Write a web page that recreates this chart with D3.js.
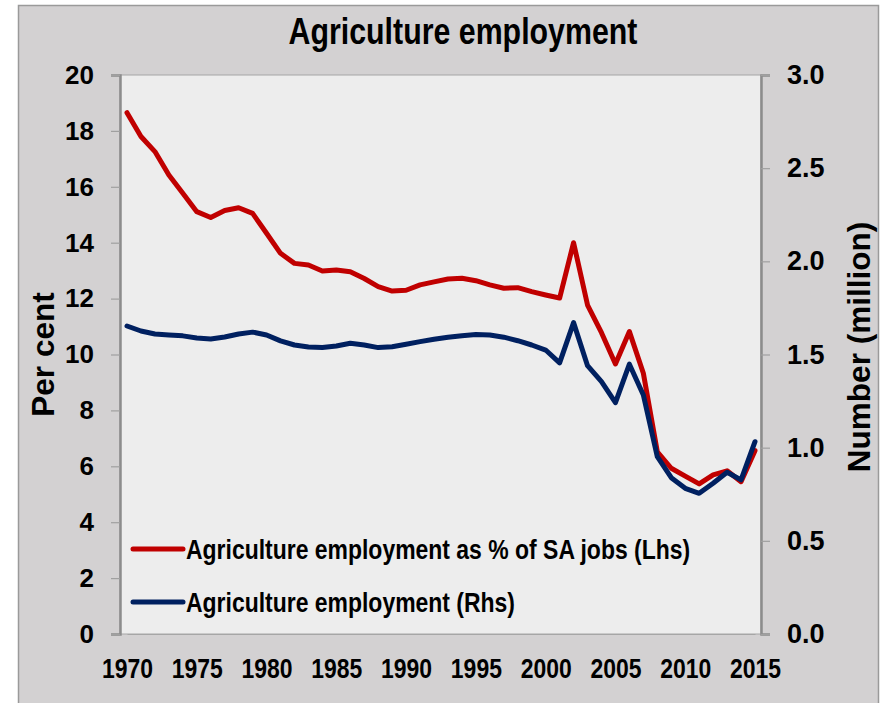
<!DOCTYPE html>
<html>
<head>
<meta charset="utf-8">
<script src="https://cdn.jsdelivr.net/npm/d3@7"></script>
<style>
  html, body { margin: 0; padding: 0; background: #ffffff; }
  svg { display: block; }
  .lab { font-family: "Liberation Sans", Arial, sans-serif; font-weight: bold; }
</style>
</head>
<body>
<script>
// Years covered by both series
const years = d3.range(1970, 2016);

// Agriculture employment as % of SA jobs (left axis)
const sharePct = [
  18.65, 17.8, 17.26, 16.42, 15.77, 15.11, 14.9, 15.15, 15.25, 15.05,
  14.34, 13.62, 13.26, 13.2, 12.99, 13.02, 12.96, 12.72, 12.43, 12.27,
  12.3, 12.49, 12.6, 12.7, 12.73, 12.64, 12.49, 12.37, 12.39, 12.25,
  12.13, 12.02, 14.0, 11.77, 10.78, 9.66, 10.82, 9.33, 6.52, 5.93,
  5.65, 5.37, 5.69, 5.84, 5.45, 6.56
];

// Agriculture employment, millions (right axis)
const employedMn = [
  1.653, 1.626, 1.61, 1.605, 1.6, 1.589, 1.583, 1.594, 1.61, 1.62,
  1.605, 1.573, 1.551, 1.54, 1.538, 1.546, 1.56, 1.551, 1.537, 1.542,
  1.555, 1.569, 1.582, 1.593, 1.601, 1.607, 1.605, 1.593, 1.574, 1.551,
  1.524, 1.455, 1.671, 1.44, 1.354, 1.242, 1.448, 1.283, 0.952, 0.839,
  0.782, 0.755, 0.809, 0.868, 0.827, 1.032
];

const xTicks = [1970, 1975, 1980, 1985, 1990, 1995, 2000, 2005, 2010, 2015];
const leftTicks = [0, 2, 4, 6, 8, 10, 12, 14, 16, 18, 20];
const rightTicks = [0, 0.5, 1.0, 1.5, 2.0, 2.5, 3.0];

const seriesLabels = [
  "Agriculture employment as % of SA jobs (Lhs)",
  "Agriculture employment (Rhs)"
];
const seriesColors = ["#C00000", "#002060"];

const W = 885, H = 703;
const plot = { left: 120, right: 761, top: 75, bottom: 634 };
const NARROW = 0.82; // horizontal squeeze for the condensed lettering

const svg = d3.select("body").append("svg")
  .attr("width", W).attr("height", H);

// Chart frame
svg.append("rect")
  .attr("x", 18.5).attr("y", 5.5)
  .attr("width", 860).attr("height", 720)
  .attr("fill", "#D3D1D2").attr("stroke", "#9A9A9A").attr("stroke-width", 1.5);

// Plot area
svg.append("rect")
  .attr("x", plot.left).attr("y", plot.top)
  .attr("width", plot.right - plot.left).attr("height", plot.bottom - plot.top)
  .attr("fill", "#EDEDED").attr("stroke", "#A6A6A6").attr("stroke-width", 1);

const x = d3.scaleLinear().domain([1970, 2015]).range([127, 755]);
const yL = d3.scaleLinear().domain([0, 20]).range([plot.bottom, plot.top]);
const yR = d3.scaleLinear().domain([0, 3]).range([plot.bottom, plot.top]);

// Left axis
const leftAxis = svg.append("g")
  .attr("transform", `translate(${plot.left},0)`)
  .call(d3.axisLeft(yL).tickValues(leftTicks).tickSize(9).tickPadding(17).tickFormat(d3.format("d")));
leftAxis.select(".domain").attr("stroke", "#8C8C8C").attr("stroke-width", 2.5);
leftAxis.selectAll(".tick line").attr("stroke", "#A0A0A0").attr("stroke-width", 1.2);
leftAxis.selectAll(".tick text").attr("class", "lab").attr("font-size", 26).attr("fill", "#000");

// Right axis
const rightAxis = svg.append("g")
  .attr("transform", `translate(${plot.right},0)`)
  .call(d3.axisRight(yR).tickValues(rightTicks).tickSize(9).tickPadding(17).tickFormat(d3.format(".1f")));
rightAxis.select(".domain").attr("stroke", "#8C8C8C").attr("stroke-width", 2.5);
rightAxis.selectAll(".tick line").attr("stroke", "#A0A0A0").attr("stroke-width", 1.2);
rightAxis.selectAll(".tick text").attr("class", "lab").attr("font-size", 27).attr("fill", "#000");

// Bottom axis (labels only)
const bottomAxis = svg.append("g")
  .attr("transform", `translate(0,${plot.bottom})`)
  .call(d3.axisBottom(x).tickValues(xTicks).tickSize(0).tickPadding(24).tickFormat(d3.format("d")));
bottomAxis.select(".domain").attr("stroke", "#A6A6A6").attr("stroke-width", 1);
bottomAxis.selectAll(".tick text")
  .attr("class", "lab").attr("font-size", 28).attr("fill", "#000")
  .attr("transform", `scale(${NARROW},1)`);

// Axis titles
svg.append("text")
  .attr("class", "lab").attr("font-size", 31.5).attr("fill", "#000")
  .attr("text-anchor", "middle")
  .attr("transform", `translate(54,${(plot.top + plot.bottom) / 2}) rotate(-90)`)
  .text("Per cent");

svg.append("text")
  .attr("class", "lab").attr("font-size", 31.5).attr("fill", "#000")
  .attr("text-anchor", "middle")
  .attr("transform", `translate(870,347) rotate(-90)`)
  .text("Number (million)");

// Title
svg.append("text")
  .attr("class", "lab").attr("font-size", 37).attr("fill", "#000")
  .attr("text-anchor", "middle")
  .attr("transform", `translate(463,44) scale(${NARROW},1)`)
  .text("Agriculture employment");

// Lines
const lineL = d3.line().x((d, i) => x(years[i])).y(d => yL(d));
const lineR = d3.line().x((d, i) => x(years[i])).y(d => yR(d));

svg.append("path").datum(sharePct)
  .attr("d", lineL).attr("fill", "none")
  .attr("stroke", seriesColors[0]).attr("stroke-width", 5)
  .attr("stroke-linejoin", "round").attr("stroke-linecap", "round");

svg.append("path").datum(employedMn)
  .attr("d", lineR).attr("fill", "none")
  .attr("stroke", seriesColors[1]).attr("stroke-width", 5)
  .attr("stroke-linejoin", "round").attr("stroke-linecap", "round");

// Legend
const legend = svg.append("g");
seriesLabels.forEach((label, i) => {
  const cy = 549 + i * 53;
  legend.append("line")
    .attr("x1", 133).attr("x2", 183).attr("y1", cy).attr("y2", cy)
    .attr("stroke", seriesColors[i]).attr("stroke-width", 5).attr("stroke-linecap", "round");
  legend.append("text")
    .attr("class", "lab").attr("font-size", 28).attr("fill", "#000")
    .attr("transform", `translate(186,${cy + 10}) scale(${NARROW},1)`)
    .text(label);
});
</script>
</body>
</html>
